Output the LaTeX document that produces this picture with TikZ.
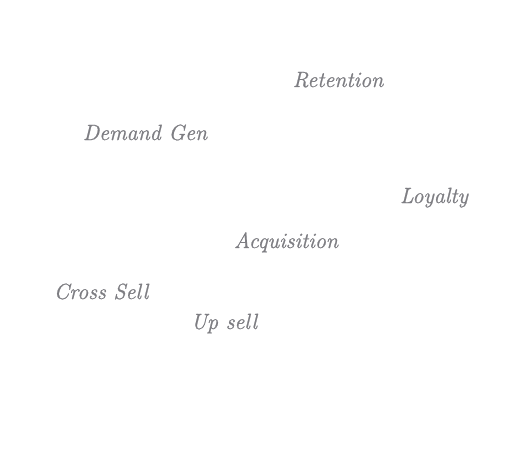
\documentclass[tikz,border=0pt]{standalone}
\usepackage{fontspec}
\newfontfamily\termfont{Latin Modern Roman}[FakeBold=0.9]
\usepackage{tikz}
\usetikzlibrary{positioning}
\definecolor{termgray}{RGB}{125,125,130}
\tikzstyle{term}=[text=termgray,anchor=base,inner sep=0pt,font=\termfont\fontsize{22}{26}\selectfont\itshape]

\begin{document}
\begin{tikzpicture}[x=1pt,y=-1pt]
\useasboundingbox (0,0) rectangle (524,468);
\node [term] (retention) at (338,87) {Retention};
\node [term] (demand) at (145,140) {Demand Gen};
\node [term] (loyalty) at (434,203) {Loyalty};
\node [term] (acquisition) at (286,248) {Acquisition};
\node [term] (crosssell) at (101,299) {Cross Sell};
\node [term] (upsell) at (224,329) {Up sell};
\end{tikzpicture}
\end{document}
